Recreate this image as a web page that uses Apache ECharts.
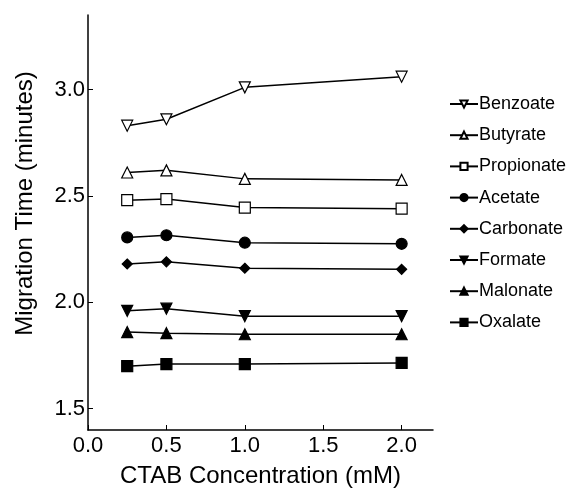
<!DOCTYPE html>
<html><head><meta charset="utf-8">
<script src="https://cdn.jsdelivr.net/npm/echarts@6/dist/echarts.min.js"></script>
<style>html,body{margin:0;padding:0;background:#fff}#c{width:569px;height:493px}</style>
</head><body><div id="c"></div>
<script>
const xValues = [0.25, 0.5, 1.0, 2.0];
const seriesNames = ["Benzoate","Butyrate","Propionate","Acetate","Carbonate","Formate","Malonate","Oxalate"];
const benzoate   = [2.83, 2.86, 3.01, 3.06];
const butyrate   = [2.61, 2.62, 2.58, 2.575];
const propionate = [2.48, 2.485, 2.445, 2.44];
const acetate    = [2.305, 2.315, 2.28, 2.275];
const carbonate  = [2.18, 2.19, 2.16, 2.155];
const formate    = [1.96, 1.97, 1.935, 1.935];
const malonate   = [1.86, 1.855, 1.85, 1.85];
const oxalate    = [1.70, 1.71, 1.71, 1.715];
const yTicks = [1.5, 2.0, 2.5, 3.0];
const xTicks = [0.0, 0.5, 1.0, 1.5, 2.0];

const allValues = [benzoate,butyrate,propionate,acetate,carbonate,formate,malonate,oxalate];
const markers = [
  {symbol:'triangle', rotate:180, fill:'#fff', size:11},
  {symbol:'triangle', rotate:0, fill:'#fff', size:11},
  {symbol:'rect', rotate:0, fill:'#fff', size:11},
  {symbol:'circle', rotate:0, fill:'#000', size:11},
  {symbol:'diamond', rotate:0, fill:'#000', size:10},
  {symbol:'triangle', rotate:180, fill:'#000', size:11},
  {symbol:'triangle', rotate:0, fill:'#000', size:11},
  {symbol:'rect', rotate:0, fill:'#000', size:11}
];
const font = 'Liberation Sans, Arial, sans-serif';
const chart = echarts.init(document.getElementById('c'));
chart.setOption({
  animation:false,
  backgroundColor:'#fff',
  grid:{left:88, top:15, right:136, bottom:61, containLabel:false},
  legend:{
    orient:'vertical', left:444, top:90, itemGap:13.2, itemWidth:28, itemHeight:9,
    textStyle:{fontFamily:font, fontSize:18, color:'#000', padding:[0,0,0,-4]},
    data: seriesNames
  },
  xAxis:{
    type:'value', min:0, max:2.2,
    name:'CTAB Concentration (mM)', nameLocation:'middle', nameGap:34,
    nameTextStyle:{fontFamily:font, fontSize:24, color:'#000'},
    axisLine:{show:true, onZero:false, lineStyle:{color:'#000', width:1.5}},
    axisTick:{show:true, inside:true, length:5, customValues:xTicks, lineStyle:{color:'#000'}},
    axisLabel:{customValues:xTicks, fontFamily:font, fontSize:22, color:'#000', margin:5,
      formatter:v=>v.toFixed(1)},
    splitLine:{show:false}
  },
  yAxis:{
    type:'value', min:1.4, max:3.35,
    name:'Migration Time (minutes)', nameLocation:'middle', nameGap:51,
    nameTextStyle:{fontFamily:font, fontSize:24, color:'#000', padding:[0,0,0,38]},
    axisLine:{show:true, onZero:false, lineStyle:{color:'#000', width:1.5}},
    axisTick:{show:true, inside:true, length:5, customValues:yTicks, lineStyle:{color:'#000'}},
    axisLabel:{customValues:yTicks, fontFamily:font, fontSize:22, color:'#000', margin:3,
      formatter:v=>v.toFixed(1)},
    splitLine:{show:false}
  },
  series: seriesNames.map((n,i)=>({
    name:n, type:'line',
    data: xValues.map((x,j)=>[x, allValues[i][j]]),
    symbol: markers[i].symbol, symbolRotate: markers[i].rotate, symbolSize: markers[i].size,
    showAllSymbol:true,
    lineStyle:{color:'#000', width:1.5},
    itemStyle:{color:markers[i].fill, borderColor:'#000', borderWidth:1.2}
  }))
});
</script></body></html>
